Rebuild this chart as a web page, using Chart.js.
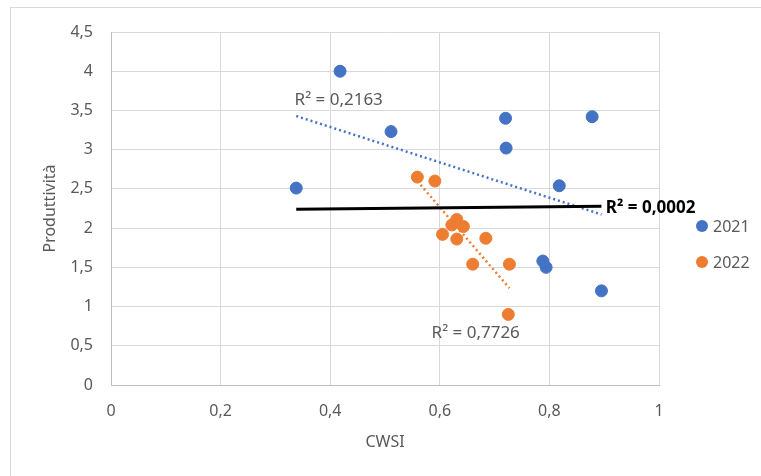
<!DOCTYPE html>
<html>
<head>
<meta charset="utf-8">
<script src="https://cdn.jsdelivr.net/npm/chart.js@4.4.0/dist/chart.umd.min.js"></script>
<style>
  html, body { margin: 0; padding: 0; background: #fff; }
  #wrap { position: relative; width: 761px; height: 476px; overflow: hidden; }
  #frame { position: absolute; left: 10px; top: 7px; width: 800px; height: 520px; border: 1px solid #d9d9d9; }
  canvas { position: absolute; left: 0; top: 0; }
</style>
</head>
<body>
<div id="wrap"><div id="frame"></div><canvas id="chart" width="761" height="476"></canvas></div>
<script>
// valeurs
const cwsi2021 = [0.338, 0.418, 0.511, 0.720, 0.721, 0.818, 0.878, 0.788, 0.794, 0.895];
const prod2021 = [2.51, 4.00, 3.23, 3.40, 3.02, 2.54, 3.42, 1.58, 1.50, 1.20];
const cwsi2022 = [0.559, 0.591, 0.631, 0.622, 0.643, 0.605, 0.631, 0.684, 0.660, 0.727, 0.725];
const prod2022 = [2.65, 2.60, 2.11, 2.04, 2.02, 1.92, 1.86, 1.87, 1.54, 1.54, 0.90];
// linea nera (R² = 0,0002): estremi
const cwsiLineaNera = [0.338, 0.895];
const prodLineaNera = [2.24, 2.28];
const seriesLabels = ['2021', '2022'];
const r2Labels = ['R² = 0,2163', 'R² = 0,7726', 'R² = 0,0002'];

const blu = '#4472C4';
const arancio = '#ED7D31';
const grigio = '#595959';

const toPoints = (xs, ys) => xs.map((x, i) => ({ x: x, y: ys[i] }));

// retta dei minimi quadrati, come la linea di tendenza di Excel
function tendenza(xs, ys) {
    const n = xs.length;
    const mx = xs.reduce((a, b) => a + b, 0) / n;
    const my = ys.reduce((a, b) => a + b, 0) / n;
    let sxy = 0, sxx = 0;
    xs.forEach((x, i) => { sxy += (x - mx) * (ys[i] - my); sxx += (x - mx) * (x - mx); });
    const b = sxy / sxx, a = my - b * mx;
    const x0 = Math.min(...xs), x1 = Math.max(...xs);
    return [{ x: x0, y: a + b * x0 }, { x: x1, y: a + b * x1 }];
}

const virgola = v => String(Number(v.toFixed(1))).replace('.', ',');

Chart.defaults.font.family = "'Noto Sans', sans-serif";
Chart.defaults.font.size = 16;
Chart.defaults.color = grigio;

// etichette R² accanto alle linee (posizione in coordinate dati)
const etichetteR2 = {
    id: 'etichetteR2',
    afterDatasetsDraw(chart) {
        const { ctx, scales: { x, y } } = chart;
        const pos = [
            { x: 0.335, y: 3.63, bold: false, color: grigio },
            { x: 0.585, y: 0.66, bold: false, color: grigio },
            { x: 0.903, y: 2.26, bold: true, color: '#000' }
        ];
        ctx.save();
        ctx.textBaseline = 'middle';
        ctx.textAlign = 'left';
        pos.forEach((p, i) => {
            ctx.font = (p.bold ? 'bold ' : '') + "17px 'Noto Sans', sans-serif";
            ctx.fillStyle = p.color;
            ctx.fillText(r2Labels[i], x.getPixelForValue(p.x), y.getPixelForValue(p.y));
        });
        ctx.restore();
    }
};

// legenda a destra, solo le due serie
const legenda = {
    id: 'legenda',
    afterDraw(chart) {
        const { ctx, chartArea } = chart;
        const serie = chart.data.datasets.filter(d => d.type === 'scatter');
        ctx.save();
        ctx.font = "16px 'Noto Sans', sans-serif";
        ctx.textBaseline = 'middle';
        serie.forEach((d, i) => {
            const cx = chartArea.right + 43;
            const cy = 226 + i * 36;
            ctx.beginPath();
            ctx.arc(cx, cy, 6, 0, Math.PI * 2);
            ctx.fillStyle = d.backgroundColor;
            ctx.fill();
            ctx.fillStyle = grigio;
            ctx.fillText(d.label, cx + 11, cy + 1);
        });
        ctx.restore();
    }
};

new Chart(document.getElementById('chart'), {
    data: {
        datasets: [
            {
                type: 'line', label: 'tendenza nera', data: toPoints(cwsiLineaNera, prodLineaNera),
                borderColor: '#000', borderWidth: 3, pointRadius: 0, order: 0
            },
            {
                type: 'line', label: 'tendenza 2021', data: tendenza(cwsi2021, prod2021),
                borderColor: blu, borderWidth: 2.5, borderDash: [2, 3], pointRadius: 0, order: 1
            },
            {
                type: 'line', label: 'tendenza 2022', data: tendenza(cwsi2022, prod2022),
                borderColor: arancio, borderWidth: 2.5, borderDash: [2, 3], pointRadius: 0, order: 1
            },
            {
                type: 'scatter', label: seriesLabels[0], data: toPoints(cwsi2021, prod2021),
                backgroundColor: blu, borderColor: blu, pointRadius: 6, pointHoverRadius: 6, order: 2
            },
            {
                type: 'scatter', label: seriesLabels[1], data: toPoints(cwsi2022, prod2022),
                backgroundColor: arancio, borderColor: arancio, pointRadius: 6, pointHoverRadius: 6, order: 2
            }
        ]
    },
    options: {
        responsive: false,
        animation: false,
        layout: { padding: { left: 37, top: 32, right: 102, bottom: 20 } },
        plugins: { legend: { display: false }, tooltip: { enabled: false } },
        scales: {
            x: {
                type: 'linear', min: 0, max: 1,
                ticks: { stepSize: 0.2, padding: 17, callback: virgola },
                grid: { color: '#d9d9d9', drawTicks: false },
                border: { color: '#bfbfbf' },
                title: { display: true, text: 'CWSI', color: grigio },
                afterFit: s => { s.height = 71; }
            },
            y: {
                type: 'linear', min: 0, max: 4.5,
                ticks: { stepSize: 0.5, padding: 18, callback: virgola },
                grid: { color: '#d9d9d9', drawTicks: false },
                border: { color: '#bfbfbf' },
                title: { display: true, text: 'Produttività', color: grigio },
                afterFit: s => { s.width = 74; }
            }
        }
    },
    plugins: [etichetteR2, legenda]
});
</script>
</body>
</html>
